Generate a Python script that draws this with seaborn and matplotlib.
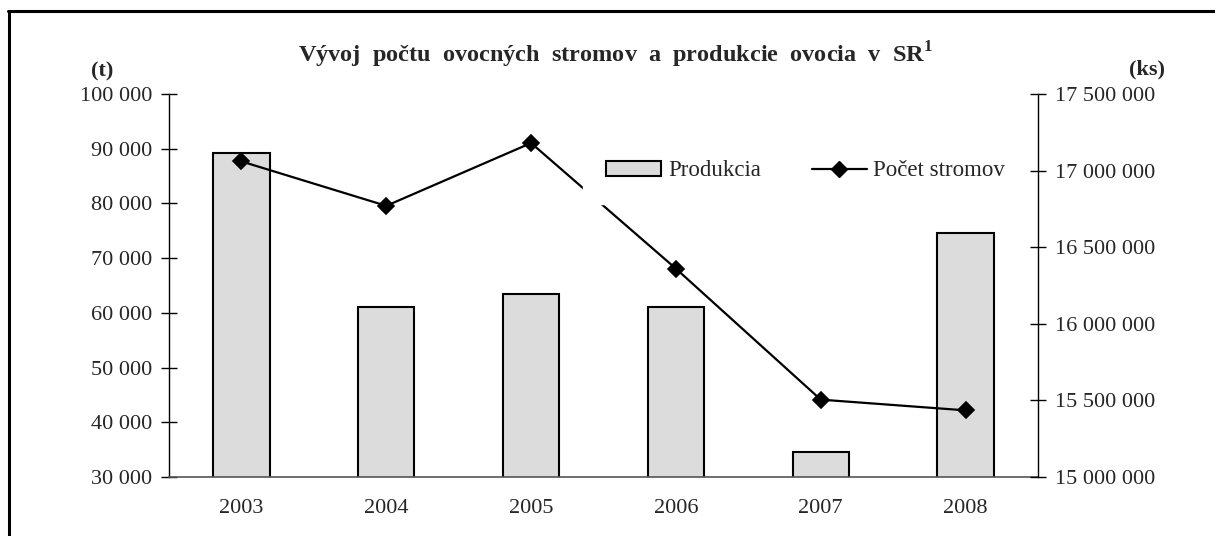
import numpy as np
import seaborn as sns
import matplotlib.pyplot as plt
from matplotlib.lines import Line2D
from matplotlib.patches import Patch
from matplotlib.ticker import FuncFormatter

# hodnoty odčítané z grafu
roky = ['2003', '2004', '2005', '2006', '2007', '2008']
produkcia = [89200, 61100, 63500, 61100, 34600, 74600]
pocet_stromov = [17060000, 16770000, 17180000, 16360000, 15505000, 15435000]

sns.set_theme(style='white')
plt.rcParams['font.family'] = ['Liberation Serif', 'DejaVu Serif']
plt.rcParams['mathtext.fontset'] = 'custom'
plt.rcParams['mathtext.rm'] = 'Liberation Serif'
plt.rcParams['mathtext.bf'] = 'Liberation Serif:bold'

fig = plt.figure(figsize=(12.15, 5.36), dpi=100)
ax = fig.add_axes([169 / 1215, 1 - 477 / 536, (1038 - 169) / 1215, (477 - 94) / 536])

# stĺpce - produkcia
sns.barplot(x=roky, y=produkcia, ax=ax, color='#dcdcdc', saturation=1,
            edgecolor='black', linewidth=1.5, width=0.39)
ax.set_ylim(30000, 100000)
ax.set_yticks(np.arange(30000, 100001, 10000))

# čiara - počet stromov
ax2 = ax.twinx()
sns.pointplot(x=roky, y=pocet_stromov, ax=ax2, color='black', markers='D',
              markersize=8, linewidth=1.6)
ax2.set_ylim(15000000, 17500000)
ax2.set_yticks(np.arange(15000000, 17500001, 500000))
ax2.set_xlim(-0.5, 5.5)
ax.set_xlim(-0.5, 5.5)

fmt = FuncFormatter(lambda v, p: f"{v:,.0f}".replace(",", " "))
ax.yaxis.set_major_formatter(fmt)
ax2.yaxis.set_major_formatter(fmt)

# tiky na osi x medzi kategóriami
ax.set_xticks(np.arange(-0.5, 6, 1))
ax.set_xticklabels([])
ax.set_xticks(range(6), minor=True)
ax.set_xticklabels(roky, minor=True)
ax.tick_params(axis='x', which='major', direction='inout', length=11, width=1, color='black')
ax.tick_params(axis='x', which='minor', length=0, pad=16, labelsize=16)
ax.tick_params(axis='y', direction='inout', length=12, width=1, color='black', pad=6, labelsize=16)
ax2.tick_params(axis='y', direction='inout', length=12, width=1, color='black', pad=6, labelsize=16)
ax.set_xlabel('')
ax.set_ylabel('')
ax2.set_ylabel('')

for s in ['top', 'right']:
    ax.spines[s].set_visible(False)
for s in ['top', 'left', 'bottom']:
    ax2.spines[s].set_visible(False)
ax.spines['left'].set_color('black')
ax.spines['left'].set_linewidth(1)
ax.spines['bottom'].set_color('#555555')
ax.spines['bottom'].set_linewidth(1.2)
ax2.spines['right'].set_color('black')
ax2.spines['right'].set_linewidth(1)

# legenda (biele pozadie prekrýva čiaru ako v originále)
handles = [Patch(facecolor='#dcdcdc', edgecolor='black', linewidth=1.5),
           Line2D([], [], color='black', marker='D', markersize=8, linewidth=1.6)]
leg = ax2.legend(handles, ['Produkcia', 'Počet stromov'], ncol=2, loc='center left',
                 bbox_to_anchor=(572 / 1215, 1 - 171 / 536), bbox_transform=fig.transFigure,
                 frameon=True, facecolor='white', edgecolor='white', framealpha=1,
                 fontsize=16.5, handlelength=2.4, handleheight=0.6, handletextpad=0.3,
                 columnspacing=2.2, borderpad=1.0, fancybox=False)

# nadpis a jednotky
fig.text(615 / 1215, 1 - 55 / 536,
         'Vývoj  počtu  ovocných  stromov  a  produkcie  ovocia  v  SR$^{\\mathbf{1}}$',
         ha='center', va='center', fontsize=17.5, fontweight='bold')
fig.text(102 / 1215, 1 - 71 / 536, '(t)', ha='center', va='center', fontsize=16, fontweight='bold')
fig.text(1147 / 1215, 1 - 69 / 536, '(ks)', ha='center', va='center', fontsize=16, fontweight='bold')

# rámček okolo grafu
fig.add_artist(Line2D([9 / 1215, 9 / 1215], [0, 1 - 11 / 536], color='black', linewidth=2.2,
                      transform=fig.transFigure))
fig.add_artist(Line2D([8 / 1215, 1], [1 - 11 / 536, 1 - 11 / 536], color='black', linewidth=2.2,
                      transform=fig.transFigure))

plt.savefig('out.png', dpi=100)
